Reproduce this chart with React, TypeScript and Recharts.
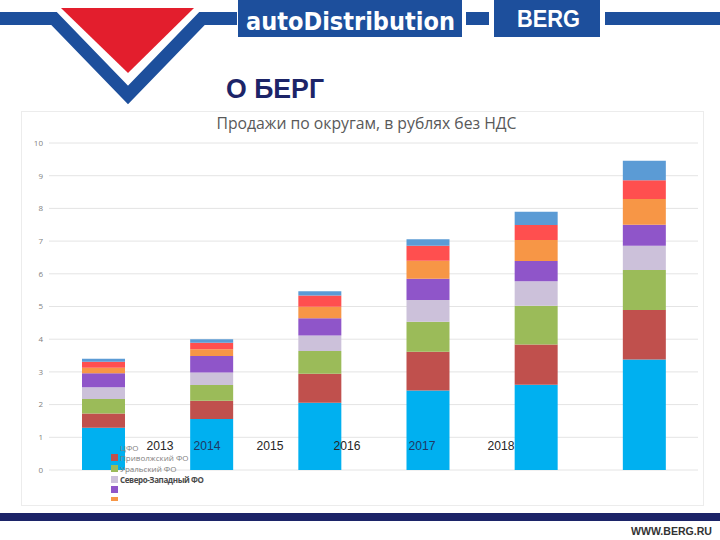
import { Bar, BarChart, CartesianGrid, Legend, XAxis, YAxis } from "recharts";

// sales by federal district (y axis 0..10)
const years = ["2013", "2014", "2015", "2016", "2017", "2018"];
const cfo = [1.29, 1.56, 2.06, 2.43, 2.61, 3.38];
const privolzh = [0.44, 0.56, 0.88, 1.19, 1.23, 1.51];
const ural = [0.44, 0.48, 0.7, 0.91, 1.18, 1.23];
const szfo = [0.36, 0.38, 0.47, 0.67, 0.75, 0.74];
const yufo = [0.43, 0.51, 0.53, 0.65, 0.62, 0.64];
const sfo = [0.17, 0.2, 0.35, 0.55, 0.64, 0.79];
const dfo = [0.18, 0.2, 0.35, 0.46, 0.46, 0.57];
const skfo = [0.09, 0.11, 0.13, 0.2, 0.41, 0.6];

const seriesNames = [
  "ЦФО",
  "Приволжский ФО",
  "Уральский ФО",
  "Северо-Западный ФО",
  "Южный ФО",
  "Сибирский ФО",
  "Дальневосточный ФО",
  "Северо-Кавказский ФО",
];
const yTicks = [0, 1, 2, 3, 4, 5, 6, 7, 8, 9, 10];

const seriesValues = [cfo, privolzh, ural, szfo, yufo, sfo, dfo, skfo];
const seriesColors = ["#00b0f0", "#c0504d", "#9bbb59", "#ccc1da", "#8f55c9", "#f79646", "#ff4f4f", "#5b9bd5"];

// overlaid year captions on the slide (they don't line up with the bars)
const yearLabelX = [160, 207, 270, 347, 422, 501];
const yearLabelColor = ["#262626", "#1f3864", "#262626", "#262626", "#1f3864", "#262626"];

const data = years.map((year, i) => {
  const row: Record<string, string | number> = { year };
  seriesNames.forEach((name, k) => {
    row[name] = seriesValues[k][i];
  });
  return row;
});

const BLUE = "#1d4f9c";
const NAVY = "#1c2468";

// the slide's legend is half hidden: only six swatches, three readable names,
// one smudged name and two bare swatches
function SlideLegend() {
  return (
    <div style={{ fontFamily: "Open Sans", fontSize: 8, color: "#7f7f7f" }}>
      {seriesNames.slice(0, 6).map((name, i) => (
        <div key={name} style={{ height: 10.6, display: "flex", alignItems: "center" }}>
          <span style={{ width: 7, height: 7, background: seriesColors[i], display: "inline-block" }} />
          {i < 3 && <span style={{ marginLeft: 2, whiteSpace: "nowrap", lineHeight: "9px" }}>{name}</span>}
          {i === 3 && (
            <span
              style={{
                marginLeft: 2,
                whiteSpace: "nowrap",
                lineHeight: "9px",
                color: "#4a4a4a",
                fontWeight: 700,
                letterSpacing: -0.4,
              }}
            >
              {name}
            </span>
          )}
        </div>
      ))}
    </div>
  );
}

function Header() {
  return (
    <svg width={720} height={110} style={{ position: "absolute", left: 0, top: 0 }}>
      <polyline
        points="0,18.5 54,18.5 128,95 202,18.5 237,18.5"
        fill="none"
        stroke={BLUE}
        strokeWidth={13}
        strokeLinejoin="miter"
      />
      <polygon points="61,8 194,8 128,73" fill="#e31e2d" stroke="#fff" strokeWidth={4} paintOrder="stroke" />
      <rect x={238} y={0} width={224} height={37} fill={BLUE} />
      <text
        x={246}
        y={30}
        fill="#fff"
        fontFamily="DejaVu Sans"
        fontWeight="bold"
        fontSize={25}
        textLength={209}
        lengthAdjust="spacingAndGlyphs"
      >
        autoDistribution
      </text>
      <rect x={466} y={12} width={23} height={13} fill={BLUE} />
      <rect x={494} y={0} width={106} height={37} fill={BLUE} />
      <text
        x={517}
        y={27}
        fill="#fff"
        fontFamily="Liberation Sans"
        fontWeight="bold"
        fontSize={23}
        textLength={63}
        lengthAdjust="spacingAndGlyphs"
      >
        BERG
      </text>
      <rect x={605} y={12} width={115} height={13} fill={BLUE} />
      <text
        x={226}
        y={98}
        fill={NAVY}
        fontFamily="Liberation Sans"
        fontWeight="bold"
        fontSize={27}
        textLength={98}
        lengthAdjust="spacingAndGlyphs"
      >
        О БЕРГ
      </text>
    </svg>
  );
}

function Overlay() {
  return (
    <svg width={720} height={540} style={{ position: "absolute", left: 0, top: 0, pointerEvents: "none" }}>
      <text
        x={366.5}
        y={129}
        textAnchor="middle"
        fill="#595959"
        fontFamily="Open Sans"
        fontSize={16}
        textLength={300}
        lengthAdjust="spacingAndGlyphs"
      >
        Продажи по округам, в рублях без НДС
      </text>
      {years.map((year, i) => (
        <text
          key={year}
          x={yearLabelX[i]}
          y={450}
          textAnchor="middle"
          fill={yearLabelColor[i]}
          fontFamily="Liberation Sans"
          fontSize={12}
          textLength={27}
          lengthAdjust="spacingAndGlyphs"
        >
          {year}
        </text>
      ))}
    </svg>
  );
}

export default function App() {
  return (
    <div style={{ position: "absolute", left: 0, top: 0, width: 720, height: 540, overflow: "hidden", background: "#fff" }}>
      <Header />
      <div
        style={{
          position: "absolute",
          left: 21,
          top: 111,
          width: 683,
          height: 395,
          border: "1px solid #ececec",
          boxSizing: "border-box",
        }}
      />
      <div style={{ position: "absolute", left: 22, top: 112, width: 686, height: 389, overflow: "hidden" }}>
        <BarChart width={686} height={393} data={data} margin={{ top: 31, right: 10, left: 0, bottom: 35 }}>
          <CartesianGrid stroke="#e4e4e4" vertical={false} />
          <XAxis dataKey="year" hide />
          <YAxis
            width={27}
            domain={[0, 10]}
            ticks={yTicks}
            axisLine={false}
            tickLine={false}
            tickSize={4}
            tick={{ fontSize: 8, fill: "#7f7f7f", fontFamily: "Open Sans" }}
          />
          <Legend
            layout="vertical"
            align="center"
            verticalAlign="middle"
            wrapperStyle={{ left: 89, top: 330, width: "auto" }}
            content={() => <SlideLegend />}
          />
          {seriesNames.map((name, k) => (
            <Bar key={name} dataKey={name} stackId="a" fill={seriesColors[k]} barSize={43} isAnimationActive={false} />
          ))}
        </BarChart>
      </div>
      <Overlay />
      <div style={{ position: "absolute", left: 0, top: 513, width: 720, height: 8, background: NAVY }} />
      <svg width={720} height={20} style={{ position: "absolute", left: 0, top: 520 }}>
        <text
          x={631}
          y={15}
          fill="#333"
          fontFamily="Liberation Sans"
          fontWeight="bold"
          fontSize={11}
          textLength={81}
          lengthAdjust="spacingAndGlyphs"
        >
          WWW.BERG.RU
        </text>
      </svg>
    </div>
  );
}
